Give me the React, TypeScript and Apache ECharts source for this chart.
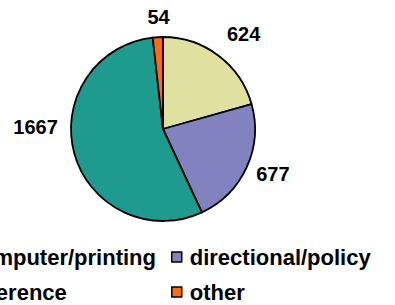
import React, { useEffect, useRef } from "react";
import * as echarts from "echarts";

const categories = ["computer/printing", "directional/policy", "reference", "other"];
const values = [624, 677, 1667, 54];
const colors = ["#E0E0A0", "#8282C0", "#1F9A8E", "#FF6A10"];
// per-slice label placement tweaks (label line hidden)
const lineLen = [27, 16, 10, 20];
const lineLen2 = [-13, -10, 2, -18];
const labelExtraLines = [0, 0, 3, 0];

export default function App() {
  const ref = useRef<HTMLDivElement>(null);
  useEffect(() => {
    if (!ref.current) return;
    const chart = echarts.init(ref.current, null, { renderer: "svg" });
    const font = "'Liberation Sans', Arial, sans-serif";
    const legendCommon = {
      orient: "vertical" as const,
      top: 246,
      padding: 0,
      itemWidth: 10,
      itemHeight: 10,
      itemGap: 13,
      icon: "rect",
      textStyle: {
        fontFamily: font,
        fontWeight: "bold" as const,
        fontSize: 22,
        lineHeight: 22,
        color: "#000",
        padding: [0, 0, 0, 3],
      },
      itemStyle: { borderColor: "#000", borderWidth: 1.5 },
    };
    chart.setOption({
      animation: false,
      color: colors,
      legend: [
        { ...legendCommon, left: -51, data: [categories[0], categories[2]] },
        { ...legendCommon, left: 171, data: [categories[1], categories[3]] },
      ],
      series: [
        {
          type: "pie",
          center: [163, 129],
          radius: 92,
          startAngle: 90,
          clockwise: true,
          avoidLabelOverlap: false,
          itemStyle: { borderColor: "#000", borderWidth: 1.8 },
          label: {
            show: true,
            position: "outside",
            fontFamily: font,
            fontWeight: "bold",
            fontSize: 20,
            lineHeight: 20,
            color: "#000",
          },
          labelLine: { show: false },
          emphasis: { disabled: true },
          data: categories.map((name, i) => ({
            name,
            value: values[i],
            labelLine: { show: false, length: lineLen[i], length2: lineLen2[i] },
            label: {
              formatter: "{c}" + "\n ".repeat(labelExtraLines[i]),
            },
          })),
        },
      ],
    });
    return () => chart.dispose();
  }, []);
  return (
    <div
      ref={ref}
      style={{ position: "absolute", left: 0, top: 0, width: 395, height: 305 }}
    />
  );
}
